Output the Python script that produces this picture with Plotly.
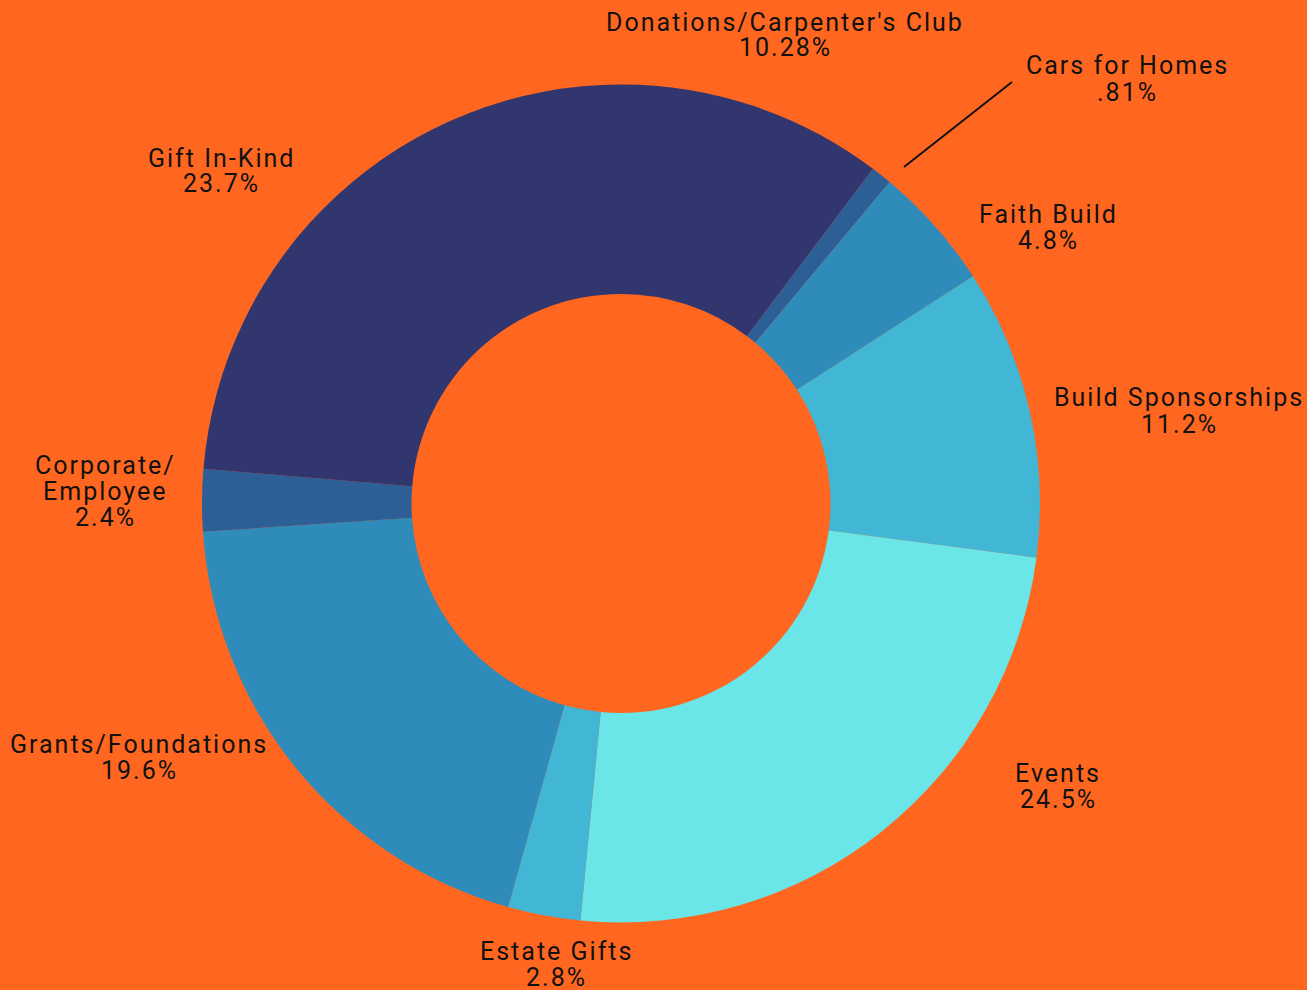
import plotly.graph_objects as go

W, H = 1307, 990

categories = ["Donations/Carpenter's Club", "Cars for Homes", "Faith Build",
              "Build Sponsorships", "Events", "Estate Gifts",
              "Grants/Foundations", "Corporate/ Employee", "Gift In-Kind"]
values = [10.28, 0.81, 4.8, 11.2, 24.5, 2.8, 19.6, 2.4, 23.7]
pct_labels = ["10.28%", ".81%", "4.8%", "11.2%", "24.5%", "2.8%", "19.6%", "2.4%", "23.7%"]
label_lines = [["Donations/Carpenter's Club"], ["Cars for Homes"], ["Faith Build"],
               ["Build Sponsorships"], ["Events"], ["Estate Gifts"],
               ["Grants/Foundations"], ["Corporate/", "Employee"], ["Gift In-Kind"]]
colors = ["#31366E", "#2D5F97", "#2E8BBA", "#42B6D5", "#6AE5E8",
          "#42B6D5", "#2E8BBA", "#2D5F97", "#31366E"]

# label centres in pixels (x, y)
label_pos = [(785, 35), (1127, 79), (1048, 227), (1179, 411), (1058, 786),
             (556, 964), (139, 757), (105, 491), (221, 171)]

bg = "#FF6720"
cx, cy, R = 621, 503.5, 419
LINE_H = 26

fig = go.Figure(go.Pie(
    labels=categories, values=values, sort=False, direction="clockwise",
    rotation=0, hole=0.5, textinfo="none", hoverinfo="label+percent",
    marker=dict(colors=colors, line=dict(width=0)),
    domain=dict(x=[(cx - R) / W, (cx + R) / W], y=[(H - cy - R) / H, (H - cy + R) / H]),
    showlegend=False,
))

for (px, py), lines, pct in zip(label_pos, label_lines, pct_labels):
    all_lines = lines + [pct]
    n = len(all_lines)
    for i, t in enumerate(all_lines):
        ly = py + (i - (n - 1) / 2) * LINE_H
        fig.add_annotation(x=px / W, y=1 - ly / H, xref="paper", yref="paper",
                           text=t, showarrow=False,
                           xanchor="center", yanchor="middle", align="center",
                           font=dict(family="Roboto", size=25, color="#111111"))

fig.add_shape(type="line", xref="paper", yref="paper",
              x0=904 / W, y0=1 - 167 / H, x1=1012 / W, y1=1 - 82 / H,
              line=dict(color="#111111", width=2))

fig.update_layout(width=W, height=H, margin=dict(l=0, r=0, t=0, b=0),
                  paper_bgcolor=bg, plot_bgcolor=bg)

post = """
document.body.style.margin = '0';
document.body.style.overflow = 'hidden';
document.querySelectorAll('.annotation-text').forEach(function(e){
  e.style.letterSpacing = '2px';
});
"""
fig.write_html("out.html", post_script=post, config={"displayModeBar": False})
